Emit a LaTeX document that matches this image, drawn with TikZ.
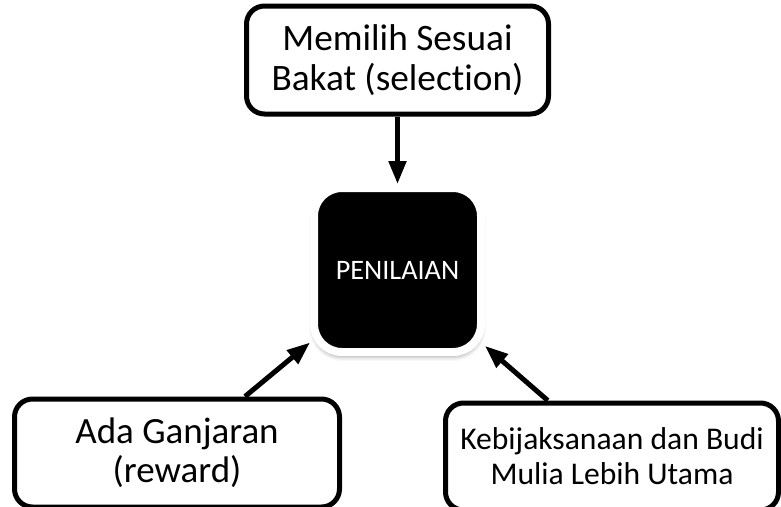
\documentclass[tikz,border=0pt]{standalone}
\usepackage{fontspec}
\setmainfont{Carlito}[Ligatures=NoCommon]
\usetikzlibrary{arrows.meta,positioning,shadows.blur}

\begin{document}
\begin{tikzpicture}
  \tikzstyle{factor} = [rectangle, rounded corners=18pt, draw=black, line width=5pt, fill=white, inner sep=0pt, align=center]
  \tikzstyle{core} = [rectangle, rounded corners=28pt, draw=white, line width=8pt, fill=black, text=white, inner sep=0pt, minimum width=167pt, minimum height=164pt, font=\fontsize{28.2}{32}\selectfont, blur shadow={shadow xshift=0pt, shadow yshift=-4pt, shadow blur radius=5pt, shadow opacity=45}]
  \tikzstyle{arrow} = [line width=5pt, -{Triangle[length=23pt,width=17pt]}]

  \useasboundingbox (0,0) rectangle (781pt,-506pt);

  \node (pen) [core] at (397.5pt,-270pt) {PENILAIAN};
  \node (select) [factor, above=67.5pt of pen, minimum width=302pt, minimum height=108pt, font=\fontsize{37.3}{40}\selectfont] {Memilih Sesuai\\Bakat (selection)};
  \node (reward) [factor, below=40.5pt of pen, xshift=-220.5pt, minimum width=325pt, minimum height=108pt, font=\fontsize{37}{39}\selectfont] {Ada Ganjaran\\(reward)};
  \node (wisdom) [factor, below=44.5pt of pen, xshift=214.5pt, minimum width=333pt, minimum height=107pt, font=\fontsize{31.6}{35}\selectfont] {Kebijaksanaan dan Budi\\Mulia Lebih Utama};

  \draw [arrow] (select) -- (pen);
  \draw [arrow] (reward) -- (pen);
  \draw [arrow] (wisdom) -- (pen);
\end{tikzpicture}
\end{document}
